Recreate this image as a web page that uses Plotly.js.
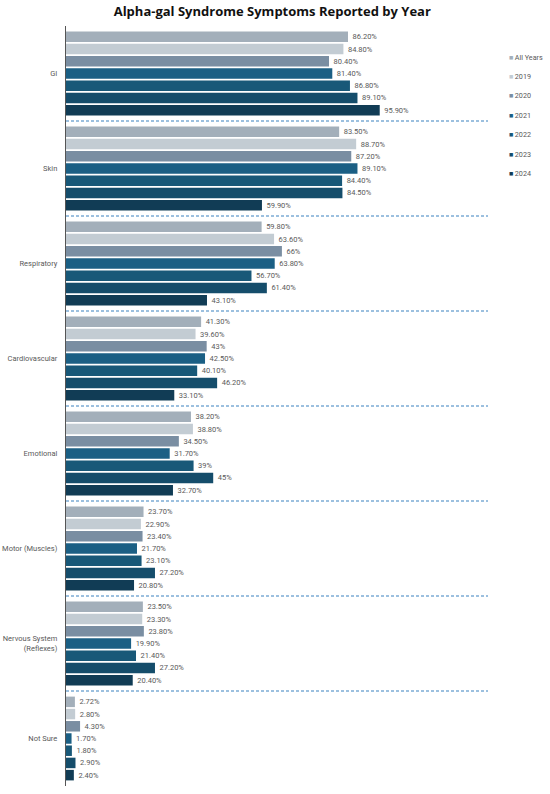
<!DOCTYPE html>
<html><head><meta charset="utf-8">
<script src="https://cdn.plot.ly/plotly-3.0.1.min.js"></script>
<style>html,body{margin:0;padding:0;background:#fff}#chart{width:550px;height:794px}</style>
</head><body><div id="chart"></div>
<script>
const categories = ["GI","Skin","Respiratory","Cardiovascular","Emotional","Motor (Muscles)","Nervous System<br>(Reflexes)","Not Sure"];
const seriesNames = ["All Years","2019","2020","2021","2022","2023","2024"];
const allYears = [86.2, 83.5, 59.8, 41.3, 38.2, 23.7, 23.5, 2.72];
const y2019   = [84.8, 88.7, 63.6, 39.6, 38.8, 22.9, 23.3, 2.8];
const y2020   = [80.4, 87.2, 66, 43, 34.5, 23.4, 23.8, 4.3];
const y2021   = [81.4, 89.1, 63.8, 42.5, 31.7, 21.7, 19.9, 1.7];
const y2022   = [86.8, 84.4, 56.7, 40.1, 39, 23.1, 21.4, 1.8];
const y2023   = [89.1, 84.5, 61.4, 46.2, 45, 27.2, 27.2, 2.9];
const y2024   = [95.9, 59.9, 43.1, 33.1, 32.7, 20.8, 20.4, 2.4];
const colors = ["#a3afba","#c3ccd3","#7a8ea2","#1b5f84","#185878","#154d6b","#113c55"];

const series = [allYears, y2019, y2020, y2021, y2022, y2023, y2024];
const fmt = v => "\u2009" + (Number.isInteger(v) ? String(v) : v.toFixed(2)) + "%";
const FONT = "Roboto, Arial, sans-serif";

const traces = series.map((vals, i) => ({
  type: "bar", orientation: "h",
  name: seriesNames[i], showlegend: false,
  x: vals, y: categories,
  marker: {color: colors[i]},
  text: vals.map(fmt), textposition: "outside", cliponaxis: false,
  textfont: {family: FONT, size: 7.5, color: "#595959"},
  hoverinfo: "none"
}));

const shapes = [];
for (let k = 0; k < categories.length - 1; k++) {
  shapes.push({type: "line", xref: "paper", yref: "y", x0: 0, x1: 1, y0: k + 0.5, y1: k + 0.5,
    line: {color: "#3a82bf", width: 1.1, dash: "3px,2px"}});
}

// legend drawn as annotations (small square markers)
const annotations = seriesNames.map((n, i) => ({
  xref: "paper", yref: "paper", x: 1.045, y: 0.959 - i * 0.0255,
  xanchor: "left", yanchor: "middle", showarrow: false,
  text: '<span style="color:' + colors[i] + '">■</span>\u2009' + n,
  font: {family: FONT, size: 7.2, color: "#595959"}
}));

const layout = {
  width: 550, height: 794,
  margin: {l: 66, r: 62, t: 26, b: 8, autoexpand: false},
  paper_bgcolor: "#fff", plot_bgcolor: "#fff",
  title: {text: "<b>Alpha-gal Syndrome Symptoms Reported by Year</b>", x: 0.495, xanchor: "center", y: 0.985, yanchor: "middle",
    font: {family: "Open Sans, Arial, sans-serif", size: 13, color: "#111"}},
  barmode: "group", bargap: 0.1, bargroupgap: 0.14,
  xaxis: {range: [0, 129], showgrid: false, zeroline: false, showticklabels: false, showline: false, fixedrange: true},
  yaxis: {autorange: "reversed", showgrid: false, zeroline: false, showline: true, linecolor: "#555", linewidth: 1.2,
    ticks: "", ticklabelstandoff: 6,
    tickfont: {family: FONT, size: 7.5, color: "#595959"}},
  shapes: shapes,
  annotations: annotations,
  showlegend: false
};
Plotly.newPlot("chart", traces, layout, {displayModeBar: false, staticPlot: true});
</script></body></html>
